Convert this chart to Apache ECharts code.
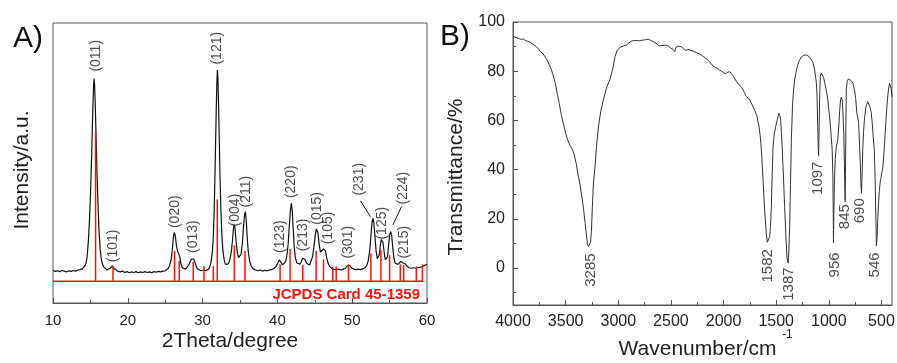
<!DOCTYPE html>
<html><head><meta charset="utf-8">
<script src="https://cdn.jsdelivr.net/npm/echarts@6/dist/echarts.min.js"></script>
<style>html,body{margin:0;padding:0;background:#fff}#c{width:897px;height:363px}</style>
</head><body><div id="c"></div>
<script>
// ---------- Panel A: XRD ----------
const xrdTicks = [10, 20, 30, 40, 50, 60];
const xrdPattern = [
[10.0,11.6],[10.3,11.3],[10.6,11.5],[10.9,11.2],[11.2,11.6],[11.5,11.4],[11.8,11.1],[12.1,11.5],[12.4,11.3],[12.7,11.6],[13.0,11.4],[13.3,11.7],[13.6,11.9],[13.9,12.2],[14.1,12.6],[14.3,13.4],[14.45,14.5],[14.6,17.5],[14.75,23],[14.9,31],[15.05,42],[15.2,56],[15.32,69],[15.42,77.5],[15.49,80.2],[15.56,78],[15.66,70],[15.78,57],[15.9,45],[16.02,35],[16.15,26],[16.3,19.5],[16.45,15.8],[16.6,14],[16.8,12.8],[17.0,12.1],[17.2,11.8],[17.45,11.9],[17.65,12.4],[17.8,13],[17.92,13.3],[18.05,13],[18.2,12.2],[18.4,11.6],[18.7,11.3],[19.0,11.1],[19.3,11.4],[19.6,10.9],[19.9,11.2],[20.2,10.8],[20.5,11.1],[20.8,10.9],[21.1,11.2],[21.4,10.8],[21.7,11.1],[22.0,10.9],[22.3,11.2],[22.6,10.9],[22.9,11.1],[23.2,10.8],[23.5,11.2],[23.8,11.0],[24.1,11.3],[24.4,11.1],[24.7,11.4],[25.0,11.5],[25.2,11.8],[25.4,12.3],[25.6,13.5],[25.8,15.5],[25.95,19],[26.1,23.5],[26.22,25.2],[26.35,24],[26.5,20.5],[26.65,18.5],[26.8,17.7],[26.95,16.5],[27.1,14],[27.3,12.5],[27.5,11.9],[27.75,12.1],[27.95,12.6],[28.15,13.6],[28.35,14.8],[28.55,15.8],[28.7,16.1],[28.85,15.6],[29.0,14.4],[29.15,13],[29.3,12.2],[29.5,11.7],[29.8,11.5],[30.1,11.8],[30.4,11.5],[30.6,11.7],[30.8,12.1],[31.0,13.2],[31.15,15],[31.3,18],[31.42,23],[31.55,33],[31.68,49],[31.8,66],[31.9,78],[31.98,83.2],[32.05,80],[32.14,70],[32.24,57],[32.34,44],[32.45,33],[32.58,24],[32.72,18.5],[32.88,15.5],[33.05,13.8],[33.25,13.2],[33.45,14],[33.65,15.5],[33.85,18.5],[34.0,22.5],[34.12,26.5],[34.22,28],[34.33,26.8],[34.48,22],[34.65,18],[34.82,16.2],[34.98,16],[35.15,17.5],[35.32,21.5],[35.48,27.5],[35.62,31.8],[35.72,32.6],[35.82,30],[35.95,24],[36.1,18.5],[36.28,15],[36.5,13.2],[36.8,12.2],[37.1,11.8],[37.4,11.5],[37.7,11.8],[38.0,11.4],[38.3,11.7],[38.6,11.5],[38.9,11.8],[39.2,11.9],[39.5,12.3],[39.8,13],[40.05,14.2],[40.25,15.4],[40.35,15.6],[40.5,14.8],[40.7,13.6],[40.9,13.6],[41.1,14.8],[41.3,17.5],[41.45,21.5],[41.6,28],[41.75,33.5],[41.87,35.6],[41.98,33],[42.1,27],[42.25,20],[42.4,16.2],[42.6,14.3],[42.8,13.6],[43.0,13.9],[43.2,14.8],[43.38,16],[43.52,16.5],[43.68,15.6],[43.9,14.2],[44.1,13.6],[44.3,13.6],[44.5,14.3],[44.7,16.5],[44.9,20.5],[45.08,24.5],[45.2,26.4],[45.3,26.7],[45.42,25.2],[45.58,21],[45.75,18.2],[45.88,17.7],[46.0,18.4],[46.15,19.3],[46.28,19.5],[46.42,18.6],[46.6,16],[46.8,14],[47.0,13],[47.3,12.3],[47.6,12],[47.9,11.9],[48.2,12.1],[48.5,11.8],[48.8,12.1],[49.1,12.4],[49.3,13.2],[49.5,13.9],[49.7,13.4],[49.9,12.6],[50.2,12.1],[50.5,11.9],[50.8,12.1],[51.1,11.9],[51.4,12.2],[51.7,12.6],[51.95,13.4],[52.15,15.2],[52.35,19],[52.52,24.5],[52.65,28.8],[52.78,30.2],[52.9,28.5],[53.05,23.5],[53.2,18.5],[53.35,15.8],[53.48,15.4],[53.62,17.2],[53.78,21],[53.9,22.7],[54.0,23],[54.12,21.5],[54.28,18],[54.42,15.5],[54.57,14.8],[54.72,16.5],[54.88,21],[55.02,24.6],[55.15,25.5],[55.28,24],[55.42,19.8],[55.58,16],[55.75,14.2],[55.9,13.6],[56.1,13.8],[56.3,14.4],[56.5,14.8],[56.65,14.6],[56.8,14.3],[56.95,14.6],[57.1,14],[57.3,13.2],[57.6,12.6],[57.9,12.4],[58.2,12.6],[58.5,12.4],[58.8,12.7],[59.1,12.8],[59.4,13],[59.7,13.5],[60.0,13.7]
];
const jcpdsPositions = [15.69,18.02,26.25,26.88,28.75,30.18,31.43,31.96,34.24,35.67,40.36,41.7,43.39,45.18,46.16,47.4,47.86,49.5,52.5,53.84,55.0,56.43,56.88,58.57,59.38];
const jcpdsIntensity = [61.4,13,18.6,15,14.8,13.2,13.2,37,20.6,18.6,13.8,19.3,13.6,18.7,15.6,13,13,13.8,17.7,18.9,17.1,13.8,13.6,13,13.8];
const jcpdsBase = 7.8;
const jcpdsBaseRange = [10, 59.55];
const xrdLabels = [
 [15.8,88.3,'(011)'],[18.02,20.4,'(101)'],[26.27,32.6,'(020)'],[28.7,23.7,'(013)'],[32.0,91.0,'(121)'],
 [34.3,33.2,'(004)'],[35.85,39.8,'(211)'],[40.4,23.7,'(123)'],[41.87,43.3,'(220)'],[43.5,24.3,'(213)'],
 [45.3,33.8,'(015)'],[46.77,26.8,'(105)'],[49.45,21.7,'(301)'],[50.9,44.2,'(231)'],[54.03,28.5,'(125)'],
 [56.8,41,'(224)'],[56.9,21.7,'(215)']
];
const xrdArrows = [
 [[51.1,36.5],[52.44,30.8]],
 [[56.58,34.4],[55.45,27.9]]
];

// ---------- Panel B: FTIR ----------
const ftirXTicks = [500,1000,1500,2000,2500,3000,3500,4000];
const ftirXMinor = [750,1250,1750,2250,2750,3250,3750];
const ftirYTicks = [0,20,40,60,80,100];
const ftirYMinor = [-10,10,30,50,70,90];
const ftirSpectrum = [
[4000,94.2],[3980,93.8],[3960,93.5],[3940,93.2],[3920,92.9],[3900,93.1],[3880,92.4],[3860,92.2],[3850,92.7],[3840,91.8],[3820,91.3],[3800,90.6],[3780,90.1],[3760,89.2],[3740,88.0],[3720,87.3],[3700,86.2],[3680,84.8],[3660,83.0],[3640,81.2],[3620,78.5],[3600,75.5],[3580,71.0],[3560,66.8],[3540,62.0],[3520,58.5],[3500,54.8],[3480,52.0],[3460,50.0],[3440,48.5],[3420,46.5],[3400,42.5],[3378,37.1],[3360,33],[3346,29],[3330,24],[3315,18.2],[3303,13.5],[3293,9.8],[3283,8.8],[3273,8.7],[3263,10.5],[3255,15],[3246,25],[3236,34.6],[3220,41.5],[3204,51],[3185,58.5],[3165,64],[3141,68.5],[3110,73.5],[3078,76.8],[3055,80.5],[3031,85.9],[3010,88.5],[2983,89.7],[2950,90.3],[2920,90.7],[2900,91.5],[2872,92.3],[2840,92.5],[2800,92.4],[2770,92.6],[2740,92.8],[2715,93.0],[2690,92.5],[2660,91.8],[2635,91.2],[2615,90.3],[2600,89.6],[2590,90.4],[2573,91.2],[2550,90.6],[2525,90.2],[2500,89.4],[2480,88.9],[2465,88.0],[2450,89.8],[2430,90.2],[2400,89.9],[2383,89.6],[2365,88.5],[2351,88.0],[2335,88.8],[2320,88.6],[2290,88.2],[2260,87.6],[2225,87.0],[2200,86.2],[2170,85.3],[2140,84.2],[2110,82.6],[2099,81.8],[2080,81.5],[2060,81.2],[2040,80.5],[2020,80.0],[2004,79.6],[1985,79.0],[1960,79.6],[1940,79.8],[1925,79.0],[1905,77.8],[1890,77.0],[1877,75.8],[1860,74.8],[1845,74.0],[1830,73.6],[1815,72.4],[1800,71.2],[1785,69.8],[1770,69.2],[1751,68.3],[1730,66.5],[1704,64.2],[1685,62.0],[1663,57.5],[1650,53.0],[1641,48],[1633,42],[1625,35.8],[1614,27],[1603,19.5],[1594,14],[1584,10.5],[1575,10.6],[1562,12.8],[1554,17],[1546,25],[1538,38],[1530,49.3],[1518,54.5],[1505,57.5],[1490,60.2],[1474,62.9],[1465,62.0],[1458,60.2],[1450,55],[1442,48],[1431,37],[1420,25],[1409,14],[1398,4.6],[1387,2.0],[1380,6.5],[1372,16.8],[1364,34],[1356,52],[1345,66],[1335,72.5],[1325,76.4],[1305,81],[1290,83.3],[1277,84.6],[1260,85.8],[1240,86.4],[1221,86.6],[1200,86.3],[1180,85.6],[1165,84.8],[1151,83.6],[1135,80.5],[1125,77.5],[1119,75.5],[1112,70],[1106,58],[1100,48],[1097,45.5],[1094,52],[1088,68],[1081,77.8],[1072,79.3],[1062,79.2],[1050,77.5],[1040,75.5],[1025,72.4],[1010,68.5],[993,61.5],[980,55],[968,48],[962,38],[958,22],[956,10.2],[953,20],[948,33],[940,44],[930,49],[915,52],[905,58],[897,64],[889,68.3],[881,69.5],[873,68.3],[866,63],[858,54.9],[852,42],[848,32],[845,27],[842,38],[838,58],[834,72.4],[826,75.8],[815,76.8],[803,76.7],[790,76.3],[771,75.1],[755,72],[745,69],[734,62.9],[724,61],[717,58.8],[708,50],[700,41],[694,33],[690,30.5],[685,36],[678,48],[670,55.5],[660,61.5],[645,66],[630,67.6],[620,67],[610,65.5],[598,63.5],[588,59],[578,53],[568,48],[560,36],[553,20],[548,9],[546,8.7],[542,12],[535,20],[527,27],[520,31.5],[512,35],[505,36.5],[496,39],[486,41.2],[476,47],[466,54],[455,61.5],[445,67.5],[435,72],[424,75.1],[415,75.5],[408,73],[401,69.6]
];
const ftirLabels = [
 [3262,-0.8,'3285'],[1580,0.9,'1582'],[1379,-6.5,'1387'],[1104,36.5,'1097'],
 [946,1.3,'956'],[851,20.9,'845'],[702,23.3,'690'],[560,1.3,'546']
];

const FONT = "'Liberation Sans', Arial, sans-serif";
const AX = '#555';
const TXT = '#222';
const plain = v => String(v);

const chart = echarts.init(document.getElementById('c'), null, {renderer:'canvas'});
chart.setOption({
  animation: false,
  backgroundColor: '#fff',
  textStyle: {fontFamily: FONT},
  grid: [
    {left: 53, top: 23, width: 374, height: 280, show: true, borderColor: AX, borderWidth: 1, backgroundColor: 'transparent', containLabel: false, outerBoundsMode: 'none'},
    {left: 513, top: 22, width: 379, height: 283, show: true, borderColor: AX, borderWidth: 1, backgroundColor: 'transparent', containLabel: false, outerBoundsMode: 'none'}
  ],
  xAxis: [
    {gridIndex: 0, type: 'value', min: 10, max: 60, interval: 10, position: 'bottom',
     axisLine: {show: true, onZero: false, lineStyle: {color: AX, width: 1}}, splitLine: {show: false},
     axisTick: {show: true, inside: true, length: 5, lineStyle: {color: AX, width: 1}},
     minorTick: {show: true, splitNumber: 2, length: 3, lineStyle: {color: AX, width: 1}},
     axisLabel: {margin: 10, fontSize: 15, color: TXT, fontFamily: FONT, showMinLabel: true, showMaxLabel: true, formatter: plain}},
    {gridIndex: 1, type: 'value', min: 400, max: 4000, inverse: true, position: 'bottom',
     axisLine: {show: true, onZero: false, lineStyle: {color: AX, width: 1}}, splitLine: {show: false},
     axisTick: {show: true, inside: true, length: 5, customValues: ftirXTicks, lineStyle: {color: AX, width: 1}},
     axisLabel: {margin: 9, fontSize: 16, color: TXT, fontFamily: FONT, customValues: ftirXTicks, formatter: plain}},
    {gridIndex: 1, type: 'value', min: 400, max: 4000, inverse: true, position: 'bottom',
     axisLine: {show: false, onZero: false}, splitLine: {show: false}, axisLabel: {show: false},
     axisTick: {show: true, inside: true, length: 3, customValues: ftirXMinor, lineStyle: {color: AX, width: 1}}}
  ],
  yAxis: [
    {gridIndex: 0, type: 'value', min: 0, max: 100,
     axisLine: {show: false, onZero: false}, splitLine: {show: false}, axisTick: {show: false}, axisLabel: {show: false}},
    {gridIndex: 1, type: 'value', min: -15, max: 100, position: 'left',
     axisLine: {show: true, onZero: false, lineStyle: {color: AX, width: 1}}, splitLine: {show: false},
     axisTick: {show: true, inside: true, length: 5, customValues: ftirYTicks, lineStyle: {color: AX, width: 1}},
     axisLabel: {margin: 8, fontSize: 16, color: TXT, fontFamily: FONT, customValues: ftirYTicks, formatter: plain}},
    {gridIndex: 1, type: 'value', min: -15, max: 100, position: 'left',
     axisLine: {show: false, onZero: false}, splitLine: {show: false}, axisLabel: {show: false},
     axisTick: {show: true, inside: true, length: 3, customValues: ftirYMinor, lineStyle: {color: AX, width: 1}}}
  ],
  series: [
    {type: 'line', xAxisIndex: 0, yAxisIndex: 0, data: xrdPattern, showSymbol: false, symbol: 'none',
     lineStyle: {color: '#111', width: 1.2}, z: 2,
     markLine: {silent: true, symbol: ['none', 'arrow'], symbolSize: [0, 7], label: {show: false},
       lineStyle: {color: '#111', width: 1, type: 'solid'},
       data: xrdArrows.map(a => [{coord: a[0]}, {coord: a[1]}])}},
    {type: 'line', xAxisIndex: 0, yAxisIndex: 0, data: jcpdsBaseRange.map(x => [x, jcpdsBase]),
     showSymbol: false, symbol: 'none', lineStyle: {color: '#ff1010', width: 1.5}, z: 3},
    {type: 'custom', xAxisIndex: 0, yAxisIndex: 0, z: 4,
     data: jcpdsPositions.map((p, i) => [p, jcpdsIntensity[i]]),
     renderItem: (params, api) => {
       const p0 = api.coord([api.value(0), jcpdsBase]);
       const p1 = api.coord([api.value(0), api.value(1)]);
       return {type: 'line', shape: {x1: p0[0], y1: p0[1], x2: p1[0], y2: p1[1]},
               style: {stroke: '#ff1010', lineWidth: 1.5}};
     }},
    {type: 'scatter', xAxisIndex: 0, yAxisIndex: 0, data: xrdLabels, symbolSize: 1,
     itemStyle: {color: 'transparent'}, silent: true, z: 5,
     label: {show: true, position: 'inside', rotate: 90, align: 'center', verticalAlign: 'middle',
       fontSize: 14, color: TXT, fontFamily: FONT, formatter: p => p.data[2]}},
    {type: 'line', xAxisIndex: 1, yAxisIndex: 1, data: ftirSpectrum, showSymbol: false, symbol: 'none',
     lineStyle: {color: '#333', width: 1}, z: 2},
    {type: 'scatter', xAxisIndex: 1, yAxisIndex: 1, data: ftirLabels, symbolSize: 1,
     itemStyle: {color: 'transparent'}, silent: true, z: 5,
     label: {show: true, position: 'inside', rotate: 90, align: 'center', verticalAlign: 'middle',
       fontSize: 15, color: TXT, fontFamily: FONT, formatter: p => p.data[2]}}
  ],
  graphic: [
    {type: 'text', x: 13, y: 39, style: {text: 'A)', font: `30px ${FONT}`, fill: '#111', textVerticalAlign: 'middle'}},
    {type: 'text', x: 440, y: 37, style: {text: 'B)', font: `30px ${FONT}`, fill: '#111', textVerticalAlign: 'middle'}},
    {type: 'text', x: 420, y: 295, style: {text: 'JCPDS Card 45-1359', font: `bold 15px ${FONT}`, fill: '#ff1010', textAlign: 'right', textVerticalAlign: 'middle'}},
    {type: 'text', x: 230, y: 341.5, style: {text: '2Theta/degree', font: `21px ${FONT}`, fill: TXT, textAlign: 'center', textVerticalAlign: 'middle'}},
    {type: 'text', x: 22, y: 170, rotation: Math.PI / 2, style: {text: 'Intensity/a.u.', font: `21px ${FONT}`, fill: TXT, textAlign: 'center', textVerticalAlign: 'middle'}},
    {type: 'text', x: 456, y: 177, rotation: Math.PI / 2, style: {text: 'Transmittance/%', font: `21px ${FONT}`, fill: TXT, textAlign: 'center', textVerticalAlign: 'middle'}},
    {type: 'text', x: 697.5, y: 349, style: {text: 'Wavenumber/cm', font: `21px ${FONT}`, fill: TXT, textAlign: 'center', textVerticalAlign: 'middle'}},
    {type: 'text', x: 782, y: 335, style: {text: '-1', font: `12px ${FONT}`, fill: TXT, textAlign: 'left', textVerticalAlign: 'middle'}}
  ]
});
</script>
</body></html>
